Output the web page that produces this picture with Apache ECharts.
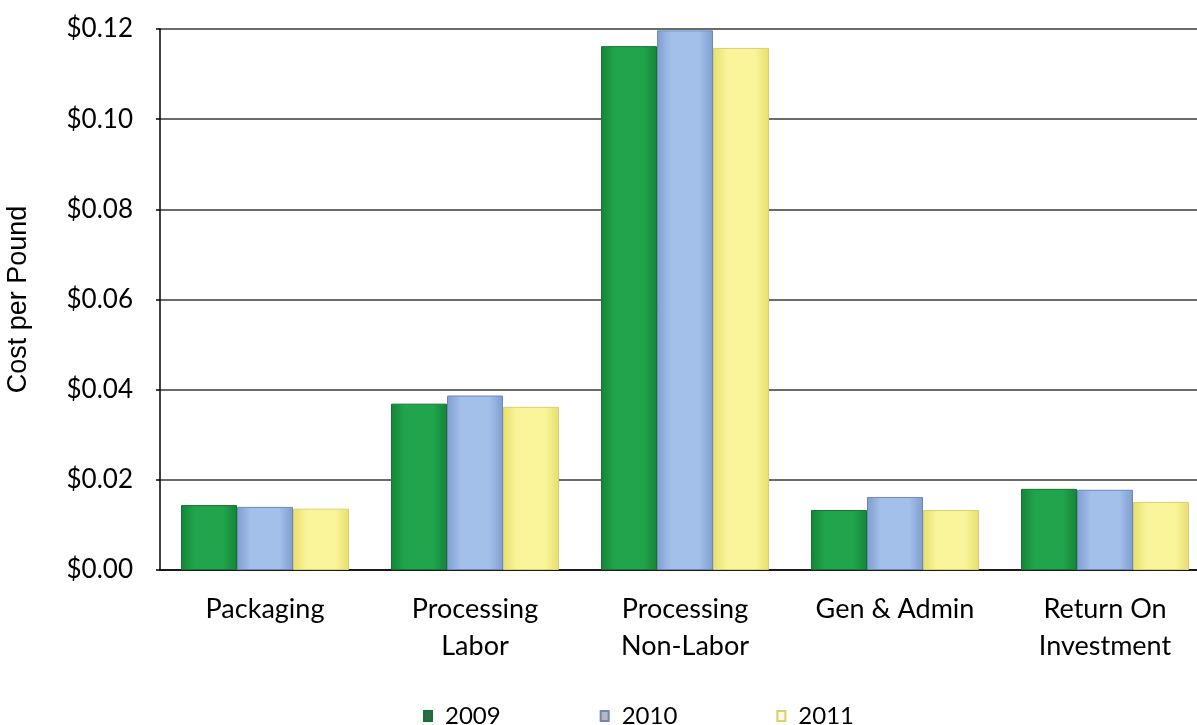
<!DOCTYPE html>
<html>
<head>
<meta charset="utf-8">
<style>
  html, body { margin: 0; padding: 0; background: #ffffff; }
  #chart { width: 1197px; height: 725px; }
</style>
<script src="https://cdn.jsdelivr.net/npm/echarts@6/dist/echarts.min.js"></script>
</head>
<body>
<div id="chart"></div>
<script>
// Cost components per pound, by year
const categories = ['Packaging', 'Processing\nLabor', 'Processing\nNon-Labor', 'Gen & Admin', 'Return On\nInvestment'];
const years = ['2009', '2010', '2011'];
const cost2009 = [0.0144, 0.0369, 0.1162, 0.0133, 0.0180];
const cost2010 = [0.0140, 0.0387, 0.1197, 0.0162, 0.0178];
const cost2011 = [0.0136, 0.0362, 0.1158, 0.0133, 0.0151];
const yTicks = { min: 0, max: 0.12, interval: 0.02 };

const FONT = 'Lato, "Open Sans", sans-serif';

// horizontal shading that gives each bar a rounded, glossy look
function barFill(edge, mid) {
  return new echarts.graphic.LinearGradient(0, 0, 1, 0, [
    { offset: 0, color: edge },
    { offset: 0.25, color: mid },
    { offset: 0.75, color: mid },
    { offset: 1, color: edge }
  ]);
}

const palette = [
  { fill: barFill('#158437', '#20a54c'), border: '#127533', icon: '#2f6b4a' },
  { fill: barFill('#7f9dcf', '#a3c0eb'), border: '#6d88b8', icon: '#b4b8c0' },
  { fill: barFill('#e6de6e', '#faf59a'), border: '#d8d070', icon: '#fbf9e4' }
];

const seriesValues = [cost2009, cost2010, cost2011];

const chart = echarts.init(document.getElementById('chart'));
chart.setOption({
  backgroundColor: '#ffffff',
  animation: false,
  // the plot runs on past the right edge of the canvas
  grid: { left: 160, width: 1050, top: 29, height: 541, containLabel: false, outerBoundsMode: 'none' },
  legend: {
    data: years.map((y, i) => ({ name: y, itemStyle: { color: palette[i].icon } })),
    left: 418,
    top: 699,
    icon: 'rect',
    itemWidth: 8,
    itemHeight: 10,
    itemGap: 99,
    textStyle: { fontFamily: FONT, fontSize: 24, color: '#000', padding: [0, 0, 0, 8] }
  },
  xAxis: {
    type: 'category',
    data: categories,
    axisLine: { show: true, lineStyle: { color: '#000', width: 1.5 } },
    axisTick: { show: false },
    axisLabel: {
      fontFamily: FONT, fontSize: 27, color: '#000', lineHeight: 37, margin: 21,
      interval: 0
    }
  },
  yAxis: {
    type: 'value',
    min: yTicks.min, max: yTicks.max, interval: yTicks.interval,
    name: 'Cost per Pound',
    nameLocation: 'middle',
    nameGap: 128,
    nameRotate: 90,
    nameTextStyle: { fontFamily: '"Liberation Sans", Arial, sans-serif', fontSize: 27, color: '#000' },
    axisLine: { show: true, lineStyle: { color: '#000', width: 1.5 } },
    axisTick: { show: true, length: 4, inside: false, lineStyle: { color: '#000', width: 1.5 } },
    axisLabel: {
      fontFamily: FONT, fontSize: 26, color: '#000', margin: 27,
      formatter: v => '$' + v.toFixed(2)
    },
    splitLine: { show: true, lineStyle: { color: '#3a3a3a', width: 1.5 } }
  },
  series: years.map((y, i) => ({
    name: y,
    type: 'bar',
    data: seriesValues[i],
    barGap: '0%',
    barCategoryGap: '20%',
    itemStyle: { color: palette[i].fill, borderColor: palette[i].border, borderWidth: 1 }
  }))
});
</script>
</body>
</html>
